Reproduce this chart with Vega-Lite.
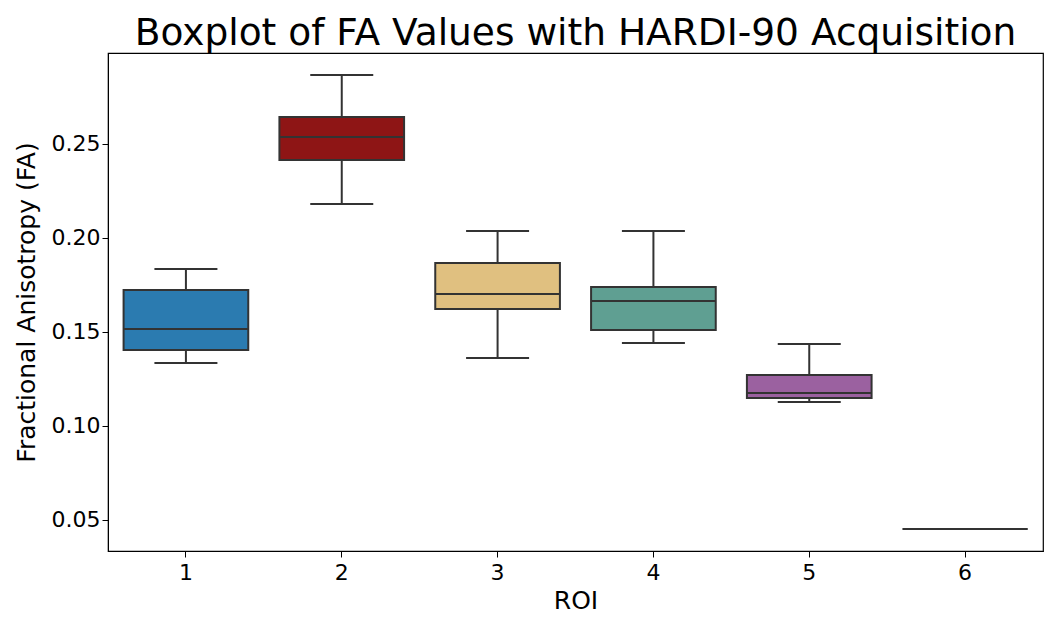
{
  "$schema": "https://vega.github.io/schema/vega-lite/v6.json",
  "autosize": "none",
  "padding": {"left": 108, "top": 53, "right": 15, "bottom": 92},
  "width": 935,
  "height": 498,
  "background": "white",
  "title": {"text": "Boxplot of FA Values with HARDI-90 Acquisition", "font": "DejaVu Sans", "fontSize": 37.5, "fontWeight": "normal", "color": "black", "offset": 1, "anchor": "middle"},
  "config": {
    "view": {"stroke": "black", "strokeWidth": 1.2},
    "axis": {"labelFont": "DejaVu Sans", "titleFont": "DejaVu Sans", "labelFontSize": 22, "titleFontSize": 25, "titleFontWeight": "normal", "labelColor": "black", "titleColor": "black", "tickColor": "black", "domainColor": "black", "tickSize": 6, "grid": false}
  },
  "data": {"values": [
    {"roi": "1", "lo": 0.1335, "q1": 0.1404, "med": 0.1516, "q3": 0.1723, "hi": 0.1835},
    {"roi": "2", "lo": 0.2181, "q1": 0.2415, "med": 0.2537, "q3": 0.2644, "hi": 0.2867},
    {"roi": "3", "lo": 0.1362, "q1": 0.1622, "med": 0.1702, "q3": 0.1867, "hi": 0.2037},
    {"roi": "4", "lo": 0.1441, "q1": 0.1511, "med": 0.1665, "q3": 0.1739, "hi": 0.2037},
    {"roi": "5", "lo": 0.1128, "q1": 0.1149, "med": 0.1176, "q3": 0.1271, "hi": 0.1436},
    {"roi": "6", "lo": 0.0452, "q1": 0.0452, "med": 0.0452, "q3": 0.0452, "hi": 0.0452}
  ]},
  "encoding": {
    "x": {"field": "roi", "type": "nominal", "title": "ROI", "scale": {"paddingInner": 0.2, "paddingOuter": 0.1}, "axis": {"labelAngle": 0, "labelPadding": 5, "titlePadding": 5}}
  },
  "layer": [
    {
      "mark": {"type": "rule", "color": "#333333", "strokeWidth": 2},
      "encoding": {
        "y": {"field": "lo", "type": "quantitative", "title": "Fractional Anisotropy (FA)", "scale": {"domain": [0.0335, 0.2984], "nice": false, "zero": false}, "axis": {"values": [0.05, 0.10, 0.15, 0.20, 0.25], "format": ".2f", "titlePadding": 12}},
        "y2": {"field": "hi"}
      }
    },
    {
      "mark": {"type": "bar", "stroke": "#333333", "strokeWidth": 2},
      "encoding": {
        "y": {"field": "q1", "type": "quantitative"},
        "y2": {"field": "q3"},
        "color": {"field": "roi", "type": "nominal", "legend": null, "scale": {"domain": ["1","2","3","4","5","6"], "range": ["#2b7bb0", "#8e1515", "#e0c080", "#5f9f92", "#9b61a0", "#8a8a8a"]}}
      }
    },
    {
      "mark": {"type": "tick", "color": "#333333", "thickness": 2, "size": 63, "orient": "horizontal", "opacity": 1},
      "encoding": {"y": {"field": "lo", "type": "quantitative"}}
    },
    {
      "mark": {"type": "tick", "color": "#333333", "thickness": 2, "size": 63, "orient": "horizontal", "opacity": 1},
      "encoding": {"y": {"field": "hi", "type": "quantitative"}}
    },
    {
      "mark": {"type": "tick", "color": "#333333", "thickness": 2, "size": 125, "orient": "horizontal", "opacity": 1},
      "encoding": {"y": {"field": "med", "type": "quantitative"}}
    }
  ]
}
